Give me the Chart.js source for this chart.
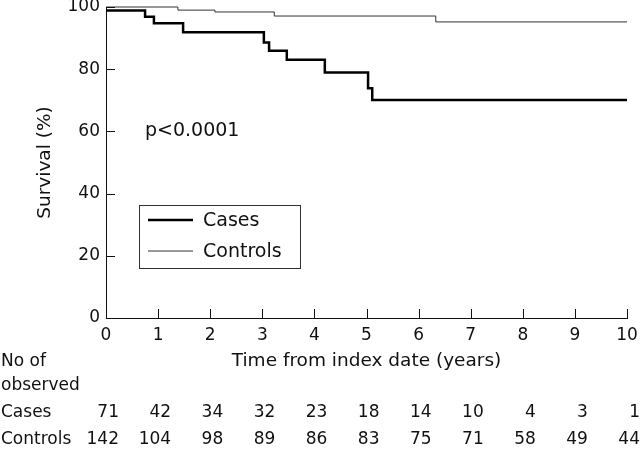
<!DOCTYPE html>
<html>
<head>
<meta charset="utf-8">
<script src="https://cdn.jsdelivr.net/npm/chart.js@4/dist/chart.umd.min.js"></script>
<style>
  html, body { margin: 0; padding: 0; background: #fff; }
  canvas { display: block; }
</style>
</head>
<body>
<canvas id="survivalChart" width="640" height="449"></canvas>
<script>
// Kaplan-Meier steps (time in years, survival %)
const caseTimes = [0, 0.75, 0.92, 1.48, 3.03, 3.13, 3.47, 4.2, 5.03, 5.11, 10];
const caseSurvival = [98.9, 96.9, 94.8, 91.9, 88.6, 85.9, 83.0, 78.9, 73.9, 70.1, 70.1];
const controlTimes = [0, 1.38, 2.09, 3.23, 6.33, 10];
const controlSurvival = [100, 99.0, 98.4, 97.1, 95.2, 95.2];

// Numbers at risk table under the x axis
const yearTicks = [0, 1, 2, 3, 4, 5, 6, 7, 8, 9, 10];
const casesAtRisk = [71, 42, 34, 32, 23, 18, 14, 10, 4, 3, 1];
const controlsAtRisk = [142, 104, 98, 89, 86, 83, 75, 71, 58, 49, 44];

const FONT = 'DejaVu Sans';
const INK = '#111';

function toPoints(xs, ys) {
    return xs.map((x, i) => ({ x: x, y: ys[i] }));
}

// inward tick marks on both axes
const innerTicks = {
    id: 'innerTicks',
    afterDraw(chart) {
        const ctx = chart.ctx;
        const { x, y } = chart.scales;
        const len = 9;
        ctx.save();
        ctx.strokeStyle = INK;
        ctx.lineWidth = 1;
        ctx.beginPath();
        x.ticks.forEach(t => {
            const px = Math.round(x.getPixelForValue(t.value)) + 0.5;
            ctx.moveTo(px, y.bottom);
            ctx.lineTo(px, y.bottom - len);
        });
        y.ticks.forEach(t => {
            const py = Math.round(y.getPixelForValue(t.value)) + 0.5;
            ctx.moveTo(x.left, py);
            ctx.lineTo(x.left + len, py);
        });
        ctx.stroke();
        ctx.restore();
    }
};

// p value, legend box and the at-risk table
const annotations = {
    id: 'annotations',
    afterDraw(chart) {
        const ctx = chart.ctx;
        const xs = chart.scales.x;
        ctx.save();
        ctx.fillStyle = INK;
        ctx.textBaseline = 'middle';

        ctx.font = '19px "' + FONT + '"';
        ctx.textAlign = 'left';
        ctx.fillText('p<0.0001', 145, 131);

        // legend
        ctx.strokeStyle = '#333';
        ctx.lineWidth = 1;
        ctx.strokeRect(139.5, 205.5, 161, 63);
        const sets = chart.data.datasets;
        [220, 251].forEach((ly, i) => {
            ctx.strokeStyle = sets[i].borderColor;
            ctx.lineWidth = sets[i].borderWidth;
            ctx.beginPath();
            ctx.moveTo(148, ly);
            ctx.lineTo(193, ly);
            ctx.stroke();
            ctx.fillText(sets[i].label, 203, ly + 1);
        });

        // at-risk table
        ctx.font = '17px "' + FONT + '"';
        ctx.fillText('No of', 1, 362);
        ctx.fillText('observed', 1, 386);
        ctx.fillText('Cases', 1, 413);
        ctx.fillText('Controls', 1, 440);
        ctx.textAlign = 'right';
        yearTicks.forEach((yr, i) => {
            const px = xs.getPixelForValue(yr) + 13;
            ctx.fillText(String(casesAtRisk[i]), px, 413);
            ctx.fillText(String(controlsAtRisk[i]), px, 440);
        });
        ctx.restore();
    }
};

new Chart(document.getElementById('survivalChart'), {
    type: 'line',
    data: {
        datasets: [
            {
                label: 'Cases',
                data: toPoints(caseTimes, caseSurvival),
                stepped: true,
                borderColor: '#000',
                borderWidth: 2.5,
                pointRadius: 0,
                fill: false,
                clip: 4
            },
            {
                label: 'Controls',
                data: toPoints(controlTimes, controlSurvival),
                stepped: true,
                borderColor: '#333',
                borderWidth: 1,
                pointRadius: 0,
                fill: false,
                clip: 4
            }
        ]
    },
    options: {
        responsive: false,
        animation: false,
        layout: {
            padding: { left: 0, right: 13, top: 7, bottom: 77 }
        },
        plugins: {
            legend: { display: false },
            tooltip: { enabled: false }
        },
        scales: {
            x: {
                type: 'linear',
                min: 0,
                max: 10,
                grid: { drawOnChartArea: false, drawTicks: false },
                border: { color: INK, width: 1 },
                ticks: {
                    stepSize: 1,
                    padding: 7,
                    color: INK,
                    maxRotation: 0,
                    font: { family: FONT, size: 17 }
                },
                title: {
                    display: true,
                    text: 'Time from index date (years)',
                    color: INK,
                    padding: { top: 0, bottom: 0 },
                    font: { family: FONT, size: 18.5 }
                },
                afterFit: function (s) {
                    s.height = 54;
                    s.paddingLeft = 0;
                    s.paddingRight = 0;
                }
            },
            y: {
                min: 0,
                max: 100,
                grid: { drawOnChartArea: false, drawTicks: false },
                border: { color: INK, width: 1 },
                ticks: {
                    stepSize: 20,
                    padding: 6,
                    color: INK,
                    font: { family: FONT, size: 17 }
                },
                title: {
                    display: true,
                    text: 'Survival (%)',
                    color: INK,
                    padding: { top: 34, bottom: 0 },
                    font: { family: FONT, size: 18.5 }
                },
                afterFit: function (s) {
                    s.width = 106;
                    s.paddingTop = 0;
                    s.paddingBottom = 0;
                }
            }
        }
    },
    plugins: [innerTicks, annotations]
});
</script>
</body>
</html>
